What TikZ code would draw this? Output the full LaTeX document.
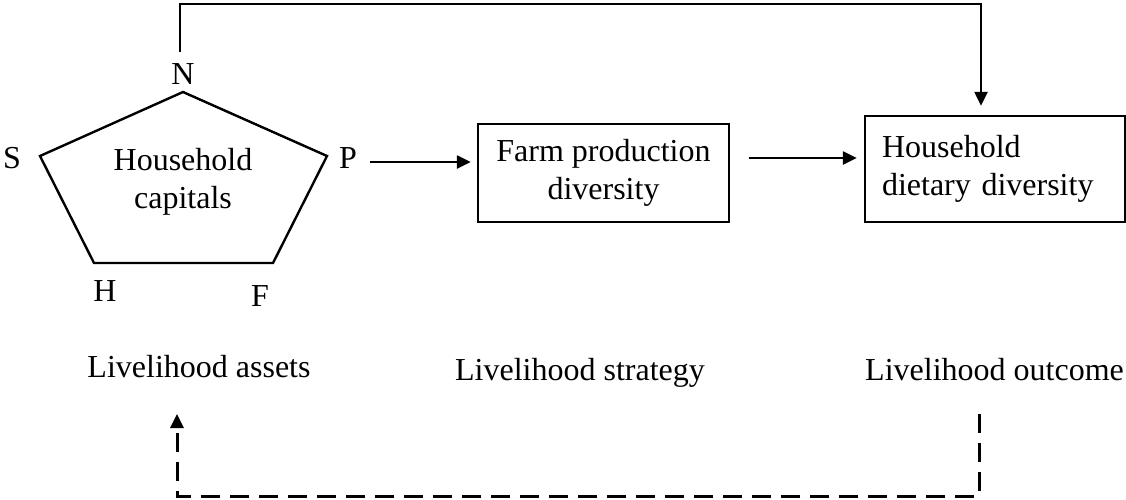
\documentclass[tikz,border=0pt]{standalone}
\usepackage{fontspec}
\setmainfont{Liberation Serif}
\usetikzlibrary{arrows.meta,calc}
\begin{document}
\begin{tikzpicture}[x=1pt,y=-1pt,
  every node/.style={font=\fontsize{32}{38}\selectfont, inner sep=0pt},
  boxnode/.style={draw, line width=2.4pt},
  conn/.style={line width=2.4pt, -{Triangle[length=14pt,width=13pt]}},
  feedback/.style={line width=3pt, dash pattern=on 19pt off 10pt, -{Triangle[length=14pt,width=13pt]}},
  outline/.style={line width=2.4pt, line join=miter}]
\useasboundingbox (0,0) rectangle (1126,499);

% pentagon of household capitals
\coordinate (vN) at (183,92);
\coordinate (vP) at (327,156);
\coordinate (vF) at (273,263);
\coordinate (vH) at (94,263);
\coordinate (vS) at (40,156);
\draw[outline] (vN) -- (vP) -- (vF) -- (vH) -- (vS) -- cycle;
\node[align=center] (cap) at (183,182) {Household\\capitals};
\node (lN) at (183,74) {N};
\node (lS) at (12,158) {S};
\node (lP) at (348,158) {P};
\node (lH) at (105,291) {H};
\node (lF) at (260,296) {F};

% boxes
\node[boxnode, minimum width=251pt, minimum height=98pt, align=center] (farm) at (603.5,173) {Farm production\\diversity};
\node[boxnode, minimum width=260pt, minimum height=106pt, text width=226pt, inner xsep=17pt, align=left] (diet) at (995,169) {Household\\dietary diversity};

% bottom labels
\node[anchor=base] (assets) at (199,377) {Livelihood assets};
\node[anchor=base] (strategy) at (580,380) {Livelihood strategy};
\node[anchor=base east] (outcome) at (1124,380) {Livelihood outcome};

% connectors
\draw[conn] ($(lP.east)+(13,4)$) -- ($(lP.east -| farm.west)+(-6,4)$);
\draw[conn] ($(farm.east)+(19,-15)$) -- ($(diet.west)+(-7,-11)$);

\coordinate (ntop) at (180,52);
\coordinate (topy) at (0,4);
\coordinate (dtip) at ($(diet.north)+(-14,-9)$);
\draw[conn] (ntop) -- (ntop |- topy) -| (dtip);

\coordinate (fbs) at (979,414);
\coordinate (fbe) at (177,414);
\coordinate (fby) at (0,496);
\draw[feedback] (fbs) -- (fbs |- fby) -| (fbe);
\end{tikzpicture}
\end{document}
